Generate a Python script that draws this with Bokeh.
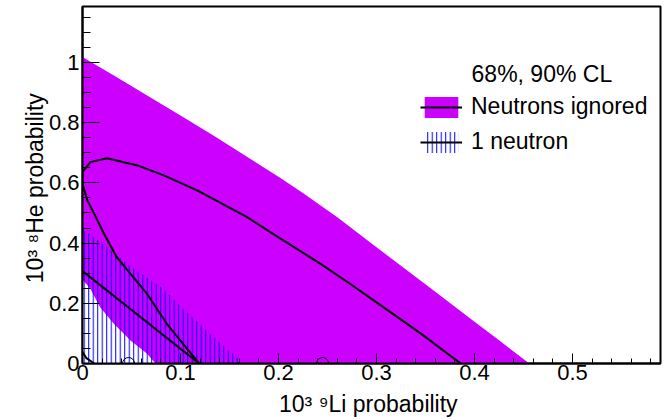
from bokeh.plotting import figure
from bokeh.models import (Range1d, SingleIntervalTicker, CustomJSTickFormatter,
                          Legend, LegendItem, Label)
from bokeh.embed import file_html
from bokeh.resources import INLINE

# ---- data ----
# 90% CL, neutrons ignored: outer boundary of the region
ign90_x = [0.0, 0.0, 0.032, 0.066, 0.100, 0.134, 0.171, 0.202, 0.226, 0.260,
           0.294, 0.328, 0.362, 0.396, 0.425, 0.456]
ign90_y = [0.0, 1.018, 0.957, 0.890, 0.824, 0.757, 0.680, 0.616, 0.564, 0.486,
           0.401, 0.317, 0.233, 0.149, 0.077, 0.0]
# 90% CL, neutrons ignored: inner (excluded) boundary near the origin
ign90_in_x = [0.0, 0.0, 0.008, 0.018, 0.032, 0.049, 0.066, 0.0745]
ign90_in_y = [0.0, 0.279, 0.248, 0.187, 0.132, 0.076, 0.032, 0.0]
# 90% CL, 1 neutron
n1_90_x = [0.0, 0.0, 0.020, 0.050, 0.080, 0.110, 0.130, 0.145, 0.161, 0.163]
n1_90_y = [0.0, 0.445, 0.400, 0.320, 0.255, 0.160, 0.100, 0.055, 0.010, 0.0]
# 68% CL, neutrons ignored (contour)
ign68_x = [0.119, 0.100, 0.086, 0.066, 0.049, 0.035, 0.022, 0.012, 0.005, 0.0,
           0.0, 0.008, 0.025, 0.056, 0.083, 0.117, 0.168, 0.202, 0.243, 0.273,
           0.304, 0.345, 0.386]
ign68_y = [0.0, 0.076, 0.132, 0.231, 0.298, 0.353, 0.431, 0.497, 0.541, 0.597,
           0.636, 0.669, 0.682, 0.658, 0.625, 0.575, 0.486, 0.415, 0.331, 0.265,
           0.194, 0.100, 0.0]
# 68% CL, 1 neutron (outer and inner contour)
n1_68_x = [0.0, 0.119]
n1_68_y = [0.307, 0.0]
n1_68_in_x = [0.0, 0.004, 0.012]
n1_68_in_y = [0.038, 0.018, 0.0]
# best-fit points
fit_x = [0.047, 0.245]
fit_y = [0.0, 0.0]

FONT = "Liberation Sans"

p = figure(width=670, height=419, output_backend="svg", toolbar_location=None,
           x_range=Range1d(0, 0.5898), y_range=Range1d(0, 1.186),
           min_border_left=82, min_border_right=10, min_border_top=6,
           min_border_bottom=56, background_fill_color="white")
p.grid.visible = False
p.outline_line_color = "black"
p.outline_line_width = 2

p.xaxis.ticker = SingleIntervalTicker(interval=0.1, num_minor_ticks=5)
p.yaxis.ticker = SingleIntervalTicker(interval=0.2, num_minor_ticks=4)
p.xaxis.formatter = CustomJSTickFormatter(code="return String(Number(tick.toFixed(3)));")
p.yaxis.formatter = CustomJSTickFormatter(code="return String(Number(tick.toFixed(3)));")

for ax in (p.xaxis[0], p.yaxis[0]):
    ax.axis_line_width = 2
    ax.axis_line_color = "black"
    ax.major_tick_out = 0
    ax.minor_tick_out = 0
    ax.major_tick_line_color = "black"
    ax.minor_tick_line_color = "black"
    ax.major_label_text_font = FONT
    ax.major_label_text_font_size = "22px"
    ax.major_label_text_color = "black"
    ax.axis_label_text_font = FONT
    ax.axis_label_text_font_size = "23px"
    ax.axis_label_text_font_style = "normal"
    ax.axis_label_text_color = "black"

p.xaxis.major_tick_in = 10
p.xaxis.minor_tick_in = 5
p.yaxis.major_tick_in = 17
p.yaxis.minor_tick_in = 8
p.xaxis.major_label_standoff = 1
p.yaxis.major_label_standoff = 3
p.xaxis.axis_label_standoff = 8
p.yaxis.axis_label_standoff = -2
p.xaxis.axis_label = "10\u00b3  \u2079Li probability"
p.yaxis.axis_label = "10\u00b3  \u2078He probability"

mag = p.patch(ign90_x, ign90_y, fill_color="#cc00ff", line_color=None)
p.patch(ign90_in_x, ign90_in_y, fill_color="white", line_color=None)
hatch = p.patch(n1_90_x, n1_90_y, fill_alpha=0, line_color=None,
                hatch_pattern="|", hatch_color="blue", hatch_scale=4.5,
                hatch_weight=1)
l68 = p.line(ign68_x, ign68_y, line_color="black", line_width=2)
l68n = p.line(n1_68_x, n1_68_y, line_color="black", line_width=2)
p.line(n1_68_in_x, n1_68_in_y, line_color="black", line_width=2)
p.scatter(fit_x, fit_y, marker="circle", size=12, fill_color=None,
          line_color="black", line_width=1)

legend = Legend(items=[LegendItem(label="Neutrons ignored", renderers=[mag, l68]),
                       LegendItem(label="1 neutron", renderers=[hatch, l68n])],
                location=(338, 208), glyph_width=42, glyph_height=26,
                label_standoff=9, spacing=8, padding=0, margin=0,
                border_line_alpha=0, background_fill_alpha=0,
                label_text_font=FONT, label_text_font_size="23px",
                label_text_color="black")
p.add_layout(legend)
p.add_layout(Label(x=0.397, y=0.963, text="68%, 90% CL", text_baseline="middle",
                   text_font=FONT, text_font_size="23px", text_color="black"))

open("out.html", "w").write(file_html(p, INLINE))
